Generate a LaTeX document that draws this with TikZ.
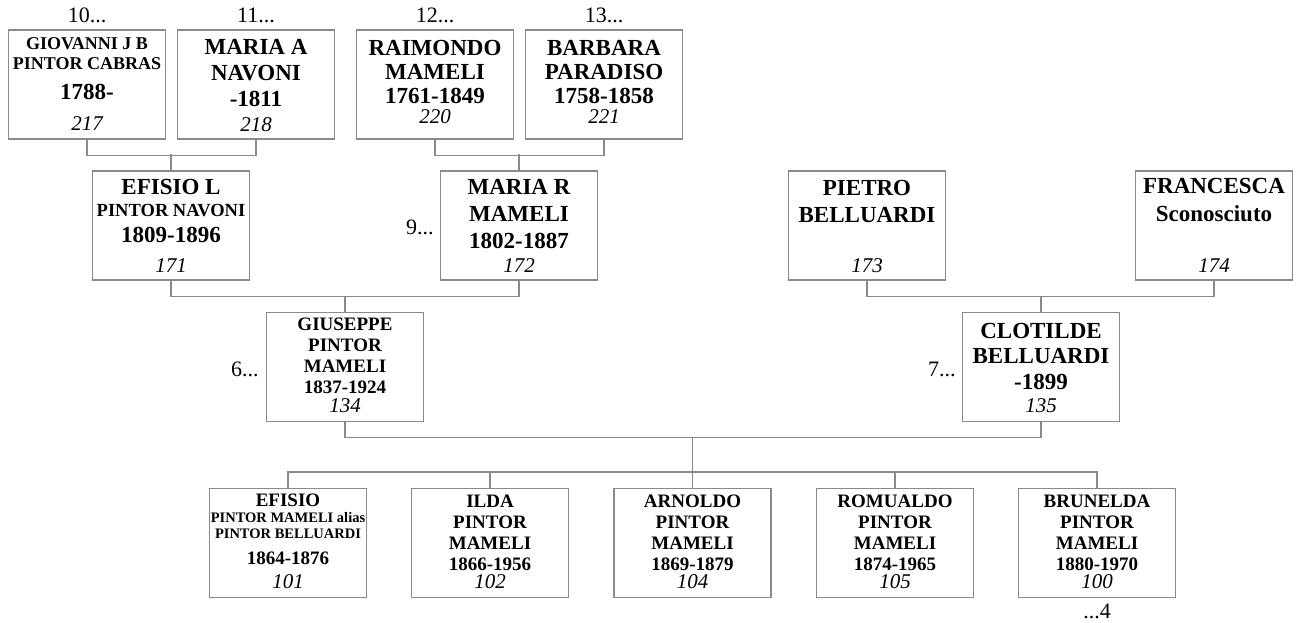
\documentclass[tikz,border=0pt]{standalone}
\usepackage{fontspec}
\setmainfont{Liberation Serif}
\usetikzlibrary{positioning}
\definecolor{famLine}{HTML}{8A8A8A}
\newcommand\famBig{\fontsize{23}{26}\selectfont}
\newcommand\famMid{\fontsize{18.5}{21}\selectfont}
\newcommand\famSmall{\fontsize{14.5}{16}\selectfont}
\tikzset{
  fam box/.style={draw=famLine, line width=1.2pt, minimum width=157pt, minimum height=109pt, inner sep=0pt},
  fam name/.style 2 args={align=center, inner sep=0pt, font=\bfseries\fontsize{#1}{#2}\selectfont},
  fam num/.style={inner sep=0pt, font=\itshape\fontsize{21}{24}\selectfont},
  fam gen/.style={inner sep=0pt, font=\fontsize{22}{24}\selectfont},
  fam link/.style={draw=famLine, line width=1.2pt},
}

\begin{document}
\begin{tikzpicture}[x=1pt,y=-1pt]
\useasboundingbox (0,0) rectangle (1297,623);
% boxes and record numbers
\foreach \id/\x/\y/\up in {217/87/84.5/9pt,218/256/84.5/8pt,220/435/84.5/16pt,221/604/84.5/16pt,
  171/171/225.5/8pt,172/519/225.5/8pt,173/867/225.5/8pt,174/1214/225.5/8pt,
  134/345/367/9pt,135/1041/367/9pt,
  101/288/543/9pt,102/490/543/9pt,104/692.5/543/9pt,105/895/543/9pt,100/1097/543/9pt}{
  \node[fam box](p\id) at (\x,\y){};
  \node[fam num,above=\up of p\id.south](i\id){\id};
}
% names
\node[fam name={18}{20},below=8pt of p217.north](n217){GIOVANNI J B\\PINTOR CABRAS\\[10pt]{\famBig 1788-}};
\node[fam name={23}{26},below=9.8pt of p218.north](n218){MARIA A\\NAVONI\\-1811};
\node[fam name={23}{24},below=10.8pt of p220.north](n220){RAIMONDO\\MAMELI\\1761-1849};
\node[fam name={23}{24},below=10.8pt of p221.north](n221){BARBARA\\PARADISO\\1758-1858};
\node[fam name={23}{22},below=8.8pt of p171.north](n171){EFISIO L\\{\famMid PINTOR NAVONI}\\[4pt]1809-1896};
\node[fam name={23}{27},below=8.8pt of p172.north](n172){MARIA R\\MAMELI\\1802-1887};
\node[fam name={23}{27},below=9.8pt of p173.north](n173){PIETRO\\BELLUARDI};
\node[fam name={23}{28},below=7.8pt of p174.north](n174){FRANCESCA\\Sconosciuto};
\node[fam name={19}{21},below=5.4pt of p134.north](n134){GIUSEPPE\\PINTOR\\MAMELI\\1837-1924};
\node[fam name={23}{25.5},below=10.8pt of p135.north](n135){CLOTILDE\\BELLUARDI\\-1899};
\node[fam name={19}{16},below=5.4pt of p101.north](n101){EFISIO\\{\famSmall PINTOR MAMELI alias}\\{\famSmall PINTOR BELLUARDI}\\[10pt]1864-1876};
\node[fam name={19}{21},below=6.4pt of p102.north](n102){ILDA\\PINTOR\\MAMELI\\1866-1956};
\node[fam name={19}{21},below=6.4pt of p104.north](n104){ARNOLDO\\PINTOR\\MAMELI\\1869-1879};
\node[fam name={19}{21},below=6.4pt of p105.north](n105){ROMUALDO\\PINTOR\\MAMELI\\1874-1965};
\node[fam name={19}{21},below=6.4pt of p100.north](n100){BRUNELDA\\PINTOR\\MAMELI\\1880-1970};
% generation marks
\node[fam gen,above=6pt of p217.north](g10){10...};
\node[fam gen,above=6pt of p218.north](g11){11...};
\node[fam gen,above=6pt of p220.north](g12){12...};
\node[fam gen,above=6pt of p221.north](g13){13...};
\node[fam gen,left=6pt of p172.west,yshift=-2pt](g9){9...};
\node[fam gen,left=7pt of p134.west,yshift=-2pt](g6){6...};
\node[fam gen,left=6pt of p135.west,yshift=-2pt](g7){7...};
\node[fam gen,below=6pt of p100.south](g4){...4};
% family links
\draw[fam link](p217.south)--++(0,16)-|(p218.south);\draw[fam link](p171.north)--++(0,-16);
\draw[fam link](p220.south)--++(0,16)-|(p221.south);\draw[fam link](p172.north)--++(0,-16);
\draw[fam link](p171.south)--++(0,16)-|(p172.south);\draw[fam link](p134.north)--++(0,-16);
\draw[fam link](p173.south)--++(0,16)-|(p174.south);\draw[fam link](p135.north)--++(0,-16);
\draw[fam link](p134.south)--++(0,15.5)-|(p135.south);
\draw[fam link](p101.north)--++(0,-16)-|(p100.north);
\foreach \k in {p102,p105}{\draw[fam link](\k.north)--++(0,-16);}
\draw[fam link](p104.north)--++(0,-51);
\end{tikzpicture}
\end{document}
